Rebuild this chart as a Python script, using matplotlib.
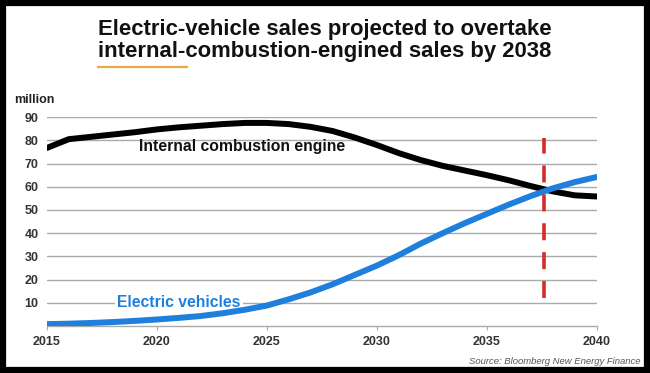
import matplotlib
matplotlib.use("Agg")
import matplotlib.pyplot as plt
from matplotlib.patches import Rectangle
from matplotlib.lines import Line2D

plt.rcParams["font.family"] = ["Liberation Sans", "DejaVu Sans"]

# ----------------------------------------------------------------- data
years = [2015, 2016, 2017, 2018, 2019, 2020, 2021, 2022, 2023, 2024, 2025, 2026,
         2027, 2028, 2029, 2030, 2031, 2032, 2033, 2034, 2035, 2036, 2037, 2038,
         2039, 2040]
ice_sales = [76.7, 80.5, 81.5, 82.5, 83.5, 84.7, 85.6, 86.3, 87, 87.5, 87.5, 87,
             85.8, 84, 81.2, 78, 74.5, 71.5, 69, 67, 65, 62.8, 60.3, 58,
             56.3, 55.8]
ev_sales = [0.8, 1.0, 1.3, 1.7, 2.2, 2.8, 3.5, 4.3, 5.5, 7, 8.8, 11.5,
            14.5, 18, 22, 26, 30.5, 35.5, 40, 44.3, 48.3, 52.3, 56, 59.3,
            62, 64.2]
crossover_year = 2037.6
crossover_span = (12, 81)
xticks = [2015, 2020, 2025, 2030, 2035, 2040]
yticks = [10, 20, 30, 40, 50, 60, 70, 80, 90]

fig = plt.figure(figsize=(6.5, 3.73), dpi=100)
ax = fig.add_axes([0.072, 0.126, 0.846, 0.560])

ax.plot(years, ice_sales, color="black", lw=4.3, solid_capstyle="round",
        solid_joinstyle="round", zorder=3)
ax.plot(years, ev_sales, color="#1f7fdc", lw=4.3, solid_capstyle="round",
        solid_joinstyle="round", zorder=3)
ax.plot([crossover_year, crossover_year], crossover_span, color="#d62b2b",
        lw=2.6, dashes=(4.7, 3.3), zorder=4)

ax.set_xlim(2015, 2040)
ax.set_ylim(0, 90)
ax.set_xticks(xticks)
ax.set_yticks(yticks)
ax.grid(axis="y", color="#aaaaaa", lw=1.0)
ax.set_axisbelow(True)
for s in ("top", "right", "left"):
    ax.spines[s].set_visible(False)
ax.spines["bottom"].set_color("#aaaaaa")
ax.spines["bottom"].set_linewidth(1.0)
ax.tick_params(axis="y", length=0, pad=6, labelsize=9, labelcolor="#333333")
ax.tick_params(axis="x", length=3, color="#aaaaaa", pad=4, labelsize=9,
               labelcolor="#333333")
for lb in ax.get_xticklabels() + ax.get_yticklabels():
    lb.set_fontweight("bold")

ax.text(2019.2, 77.5, "Internal combustion engine", fontsize=11.3,
        fontweight="bold", color="#111111", ha="left", va="center", zorder=5)
ax.text(2021.0, 10.0, "Electric vehicles", fontsize=11.3, fontweight="bold",
        color="#1f7fdc", ha="center", va="center", zorder=2,
        bbox=dict(facecolor="white", edgecolor="none", pad=1.5))

fig.text(0.022, 0.733, "million", fontsize=9, fontweight="bold", color="#222222",
         ha="left", va="center")

fig.text(0.151, 0.922, "Electric-vehicle sales projected to overtake",
         fontsize=15.9, fontweight="bold", color="#111111", ha="left", va="center")
fig.text(0.151, 0.863, "internal-combustion-engined sales by 2038",
         fontsize=15.9, fontweight="bold", color="#111111", ha="left", va="center")
fig.add_artist(Line2D([0.151, 0.288], [0.820, 0.820], color="#e8a848", lw=1.6,
                      transform=fig.transFigure))

fig.text(0.985, 0.030, "Source: Bloomberg New Energy Finance", fontsize=6.8,
         style="italic", color="#555555", ha="right", va="center")

fig.add_artist(Rectangle((0.004, 0.007), 0.992, 0.986, transform=fig.transFigure,
                         fill=False, edgecolor="black", lw=4.5))

fig.savefig("out.png", dpi=100)
